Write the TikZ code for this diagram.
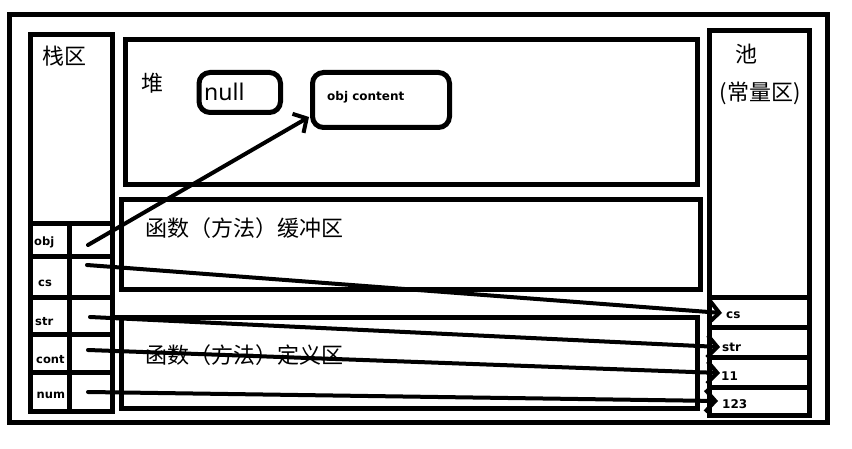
\documentclass[tikz,border=0pt]{standalone}
\usepackage{fontspec}
\setmainfont{Noto Sans}
\newfontfamily\cjk{Noto Sans CJK SC}
\newfontfamily\labfont{DejaVu Sans Bold}
\usetikzlibrary{arrows.meta}
\begin{document}
\begin{tikzpicture}[x=1pt,y=-1pt,
  frame/.style={draw,line width=5pt},
  rbox/.style={draw,line width=5pt,rounded corners=11pt,inner sep=0pt},
  lab/.style={font=\labfont\fontsize{12}{14}\selectfont,inner sep=0pt,anchor=base west},
  slab/.style={lab,font=\labfont\fontsize{11.5}{14}\selectfont},
  zh/.style={font=\cjk\fontsize{22}{26}\selectfont,inner sep=0pt},
  arr/.style={line width=4pt,line cap=round,-{Straight Barb[length=10pt,width=22pt]}}]
\useasboundingbox (0,0) rectangle (852,449);
\fill[white] (0,0) rectangle (852,449);
% outer frame
\draw[frame] (9.5,14.5) rectangle (827,422);
% stack column
\draw[frame] (30.5,34.5) rectangle (112.5,411.5);
\draw[frame] (30.5,223.5) -- (112.5,223.5);
\draw[frame] (30.5,256.5) -- (112.5,256.5);
\draw[frame] (30.5,298) -- (112.5,298);
\draw[frame] (30.5,334.5) -- (112.5,334.5);
\draw[frame] (30.5,372.5) -- (112.5,372.5);
\draw[frame] (69.5,223.5) -- (69.5,411.5);
% heap
\draw[frame] (125.5,40) rectangle (697,184.5);
% buffer area
\draw[frame] (121,199.5) rectangle (700.5,289.5);
% definition area
\draw[frame] (112.5,317.5) -- (697,317.5) -- (697,408) -- (121,408) -- (121,317.5);
% pool column
\draw[frame] (709.5,30.5) rectangle (809.5,415.5);
\draw[frame] (709.5,297.5) -- (809.5,297.5);
\draw[frame] (709.5,327) -- (809.5,327);
\draw[frame] (709.5,357.5) -- (809.5,357.5);
\draw[frame] (709.5,387.5) -- (809.5,387.5);
% heap objects
\node[rbox,minimum width=81.5pt,minimum height=40pt] (nullbox) at (239.75,92.5) {};
\node[font=\fontsize{23}{26}\selectfont,inner sep=0pt,anchor=base west] (nulltxt) at (204,101) {null};
\node[rbox,minimum width=137pt,minimum height=55pt] (objbox) at (381,100) {};
\node[lab] (objtxt) at (327,100.5) {obj content};
% Chinese labels
\node[zh] (stack) at (64,56) {栈区};
\node[zh] (pool) at (746,54) {池};
\node[zh] (const) at (760,93.5) {(常量区)};
\node[zh] (heap) at (152,83) {堆};
\node[zh] (buf) at (244,228) {函数（方法）缓冲区};
\node[zh] (def) at (244,355) {函数（方法）定义区};
% stack labels
\node[slab] (lobj) at (34,246) {obj};
\node[slab] (lcs) at (38,287) {cs};
\node[slab] (lstr) at (35,325) {str};
\node[slab] (lcont) at (36,363) {cont};
\node[slab] (lnum) at (36.5,398) {num};
% pool labels
\node[lab] (pcs) at (726,319) {cs};
\node[lab] (pstr) at (722,351.5) {str};
\node[lab] (p11) at (721,380) {11};
\node[lab] (p123) at (722,408) {123};
% connector ends
\coordinate (sobj) at (88,245);
\coordinate (scs) at (87,265);
\coordinate (sstr) at (90,317);
\coordinate (scont) at (88,350);
\coordinate (snum) at (88,392);
\coordinate (tobj) at (309,117);
\coordinate (tcs) at (722,313);
\coordinate (tstr) at (720,347);
\coordinate (t11) at (720,373);
\coordinate (t123) at (718,401);
\draw[arr] (sobj) -- (tobj);
\draw[arr] (scs) -- (tcs);
\draw[arr] (sstr) -- (tstr);
\draw[arr] (scont) -- (t11);
\draw[arr] (snum) -- (t123);
\end{tikzpicture}
\end{document}
